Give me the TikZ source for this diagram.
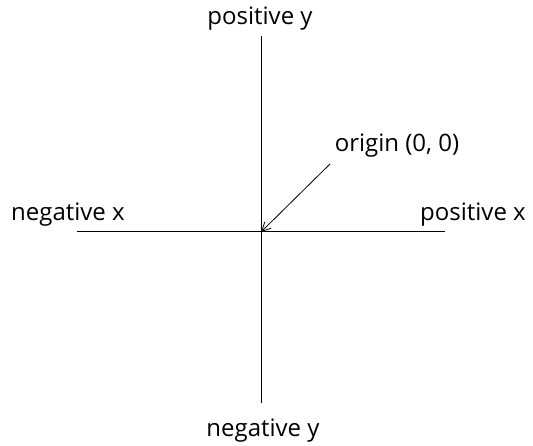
\documentclass[tikz,border=0pt]{standalone}
\usepackage{fontspec}
\setmainfont{Open Sans}
\usetikzlibrary{arrows.meta}
\begin{document}
\begin{tikzpicture}[x=1pt,y=-1pt,
  lbl/.style={inner sep=0pt,anchor=base,font=\fontsize{24}{28}\selectfont},
  axis/.style={line width=1pt,black}]
\useasboundingbox (0,0) rectangle (533,446);
\coordinate (O) at (261,232);
\coordinate (T) at (261,36);
\coordinate (B) at (261,403);
\coordinate (L) at (77,232);
\coordinate (R) at (445,232);
\draw[axis] (T) -- (B);
\draw[axis] (L) -- (R);
\node[lbl] (py) at (260,25) {positive y};
\node[lbl] (ny) at (263,436) {negative y};
\node[lbl] (nx) at (68,221) {negative x};
\node[lbl] (px) at (473,221) {positive x};
\node[lbl] (org) at (397,152) {origin (0, 0)};
\coordinate (a0) at (330,164);
\draw[line width=0.8pt,-{Straight Barb[length=9pt,width=9pt]}] (a0) -- (O);
\end{tikzpicture}
\end{document}
